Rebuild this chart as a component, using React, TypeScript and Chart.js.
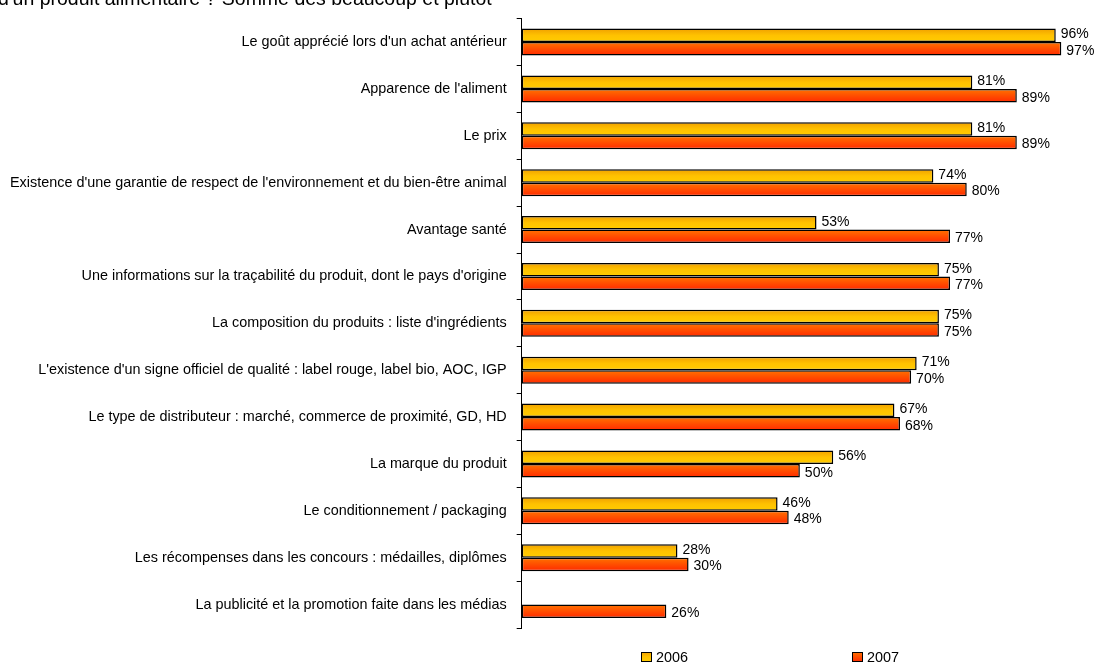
import React, { useEffect, useRef } from "react";
import { Chart, registerables } from "chart.js";

Chart.register(...registerables);

const categories = [
  "Le goût apprécié lors d'un achat antérieur",
  "Apparence de l'aliment",
  "Le prix",
  "Existence d'une garantie de respect de l'environnement et du bien-être animal",
  "Avantage santé",
  "Une informations sur la traçabilité du produit, dont le pays d'origine",
  "La composition du produits : liste d'ingrédients",
  "L'existence d'un signe officiel de qualité : label rouge, label bio, AOC, IGP",
  "Le type de distributeur : marché, commerce de proximité, GD, HD",
  "La marque du produit",
  "Le conditionnement / packaging",
  "Les récompenses dans les concours : médailles, diplômes",
  "La publicité et la promotion faite dans les médias",
];

const values2006: (number | null)[] = [96, 81, 81, 74, 53, 75, 75, 71, 67, 56, 46, 28, null];
const values2007: (number | null)[] = [97, 89, 89, 80, 77, 77, 75, 70, 68, 50, 48, 30, 26];

const seriesNames = ["2006", "2007"];
const titleText = "d'un produit alimentaire ? Somme des beaucoup et plutôt";

const FONT = "'Liberation Sans', Arial, sans-serif";

const gradStops = [
  [
    [0, "#F0A000"],
    [0.5, "#FFC200"],
    [1, "#FFCC00"],
  ],
  [
    [0, "#FF7400"],
    [0.55, "#FF4A00"],
    [1, "#FF2A00"],
  ],
];

function makeGrad(ctx: CanvasRenderingContext2D, top: number, bottom: number, i: number) {
  const g = ctx.createLinearGradient(0, top, 0, bottom);
  for (const [o, c] of gradStops[i] as [number, string][]) g.addColorStop(o, c);
  return g;
}

const gradientPlugin = {
  id: "gradientBars",
  beforeDatasetsDraw(chart: any) {
    const ctx = chart.ctx;
    chart.data.datasets.forEach((_: any, di: number) => {
      const meta = chart.getDatasetMeta(di);
      meta.data.forEach((el: any) => {
        const top = el.y - el.height / 2;
        const bottom = el.y + el.height / 2;
        el.options = Object.assign({}, el.options, {
          backgroundColor: makeGrad(ctx, top, bottom, di),
        });
      });
    });
  },
};

const labelPlugin = {
  id: "valueLabels",
  afterDatasetsDraw(chart: any) {
    const ctx = chart.ctx;
    ctx.save();
    ctx.font = `14px ${FONT}`;
    ctx.fillStyle = "#000";
    ctx.textAlign = "left";
    ctx.textBaseline = "middle";
    chart.data.datasets.forEach((ds: any, di: number) => {
      const meta = chart.getDatasetMeta(di);
      meta.data.forEach((el: any, i: number) => {
        const v = ds.data[i];
        if (v === null || v === undefined) return;
        const dy = di === 0 ? -1 : 2;
        ctx.fillText(`${v}%`, el.x + 5, el.y + dy);
      });
    });
    ctx.restore();
  },
};

const extrasPlugin = {
  id: "extras",
  afterDraw(chart: any) {
    const ctx = chart.ctx;
    ctx.save();
    // clipped title text at the very top
    ctx.font = `19.5px ${FONT}`;
    ctx.fillStyle = "#000";
    ctx.textAlign = "left";
    ctx.textBaseline = "alphabetic";
    ctx.fillText(titleText, -2, 5);
    // legend
    ctx.font = `14.4px ${FONT}`;
    const xs = [641, 852];
    seriesNames.forEach((name, i) => {
      const x = xs[i];
      const y = 652;
      ctx.fillStyle = makeGrad(ctx, y, y + 10, i);
      ctx.fillRect(x, y, 11, 10);
      ctx.strokeStyle = "#000";
      ctx.lineWidth = 1;
      ctx.strokeRect(x + 0.5, y + 0.5, 10, 9);
      ctx.fillStyle = "#000";
      ctx.textBaseline = "middle";
      ctx.fillText(name, x + 15, y + 6);
    });
    ctx.restore();
  },
};

export default function App() {
  const ref = useRef<HTMLCanvasElement | null>(null);
  useEffect(() => {
    if (!ref.current) return;
    const chart = new Chart(ref.current, {
      type: "bar",
      data: {
        labels: categories,
        datasets: [
          {
            label: seriesNames[0],
            data: values2006,
            backgroundColor: "#FFC400",
            borderColor: "#000",
            borderWidth: 1.5,
            borderSkipped: false,
            categoryPercentage: 0.574,
            barPercentage: 1,
          },
          {
            label: seriesNames[1],
            data: values2007,
            backgroundColor: "#FF4A00",
            borderColor: "#000",
            borderWidth: 1.5,
            borderSkipped: false,
            categoryPercentage: 0.574,
            barPercentage: 1,
          },
        ],
      },
      options: {
        indexAxis: "y",
        animation: false,
        responsive: false,
        layout: { padding: { top: 15, bottom: 43, right: 28, left: 0 } },
        plugins: {
          legend: { display: false },
          tooltip: { enabled: false },
          title: { display: false },
        },
        scales: {
          x: { display: false, min: 0, max: 100 },
          y: {
            type: "category",
            border: { display: true, color: "#000", width: 1 },
            grid: {
              display: true,
              drawOnChartArea: false,
              drawTicks: true,
              tickLength: 5,
              offset: true,
              color: "#000",
            },
            ticks: {
              color: "#000",
              padding: 10,
              font: { family: FONT, size: 14.4 },
              autoSkip: false,
            },
          },
        },
      },
      plugins: [gradientPlugin, labelPlugin, extrasPlugin],
    } as any);
    return () => chart.destroy();
  }, []);
  return (
    <div style={{ position: "absolute", left: 0, top: 0, width: 1106, height: 671 }}>
      <canvas ref={ref} width={1106} height={671} />
    </div>
  );
}
